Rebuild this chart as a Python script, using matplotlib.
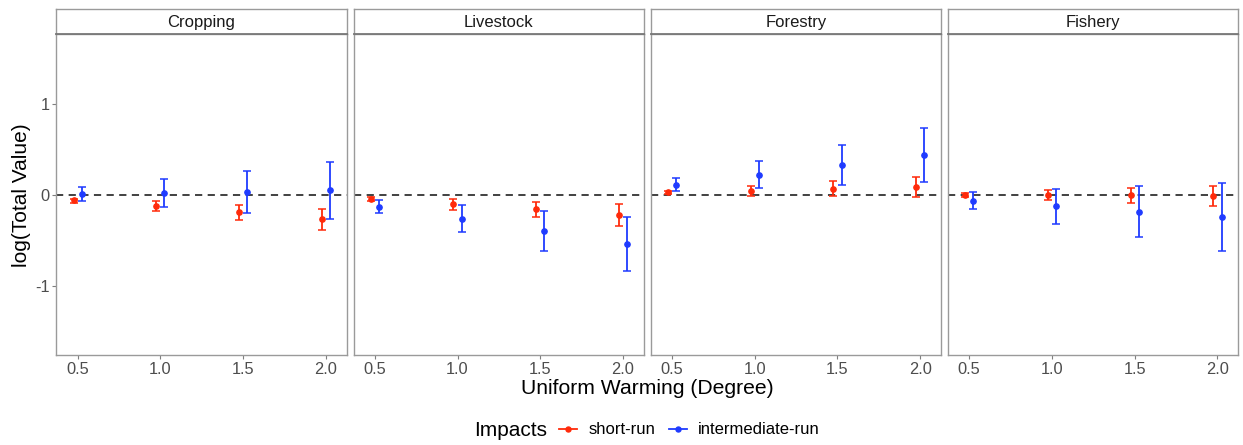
import matplotlib
matplotlib.use("Agg")
import matplotlib.pyplot as plt
from matplotlib.lines import Line2D
import numpy as np

plt.rcParams['font.family'] = ['Liberation Sans', 'DejaVu Sans']
plt.rcParams['axes.unicode_minus'] = False

sectors = ["Cropping", "Livestock", "Forestry", "Fishery"]
warming = [0.5, 1.0, 1.5, 2.0]
xticklabels = ["0.5", "1.0", "1.5", "2.0"]
yticks = [-1, 0, 1]

short_mean = {
    "Cropping":  [-0.059, -0.12, -0.19, -0.26],
    "Livestock": [-0.044, -0.10, -0.157, -0.22],
    "Forestry":  [0.03, 0.048, 0.066, 0.084],
    "Fishery":   [0.0, 0.0, -0.004, -0.01],
}
short_lo = {
    "Cropping":  [-0.084, -0.18, -0.28, -0.38],
    "Livestock": [-0.07, -0.16, -0.245, -0.337],
    "Forestry":  [0.007, -0.01, -0.015, -0.026],
    "Fishery":   [-0.026, -0.055, -0.09, -0.12],
}
short_hi = {
    "Cropping":  [-0.04, -0.07, -0.11, -0.15],
    "Livestock": [-0.02, -0.044, -0.073, -0.10],
    "Forestry":  [0.048, 0.10, 0.15, 0.198],
    "Fishery":   [0.022, 0.05, 0.077, 0.095],
}
inter_mean = {
    "Cropping":  [0.007, 0.022, 0.037, 0.05],
    "Livestock": [-0.128, -0.26, -0.40, -0.54],
    "Forestry":  [0.11, 0.223, 0.333, 0.44],
    "Fishery":   [-0.062, -0.125, -0.187, -0.245],
}
inter_lo = {
    "Cropping":  [-0.07, -0.13, -0.20, -0.26],
    "Livestock": [-0.20, -0.41, -0.62, -0.835],
    "Forestry":  [0.04, 0.077, 0.114, 0.143],
    "Fishery":   [-0.157, -0.315, -0.465, -0.62],
}
inter_hi = {
    "Cropping":  [0.088, 0.18, 0.267, 0.36],
    "Livestock": [-0.055, -0.11, -0.176, -0.24],
    "Forestry":  [0.187, 0.374, 0.553, 0.736],
    "Fishery":   [0.033, 0.07, 0.10, 0.135],
}

RED = "#FF2A0A"
BLUE = "#1F3BFF"
BORDER = "#9A9A9A"
TXT = "#4D4D4D"

W, H = 1243, 445
fig = plt.figure(figsize=(W / 100, H / 100), dpi=100)

left0 = 56.3
pw = 290.5
gap = 6.7
ptop = 34
pbot = 355
strip_top = 9

for i, s in enumerate(sectors):
    l = left0 + i * (pw + gap)
    ax = fig.add_axes([l / W, (H - pbot) / H, pw / W, (pbot - ptop) / H])
    ax.set_xlim(0.371, 2.127)
    ax.set_ylim(-1.758, 1.769)
    ax.axhline(0, color="#333333", lw=1.3, ls=(0, (4, 3)), zorder=1)
    x = np.array(warming)
    for xs, m, lo, hi, c in [
        (x - 0.025, short_mean[s], short_lo[s], short_hi[s], RED),
        (x + 0.025, inter_mean[s], inter_lo[s], inter_hi[s], BLUE),
    ]:
        m = np.array(m); lo = np.array(lo); hi = np.array(hi)
        ax.errorbar(xs, m, yerr=[m - lo, hi - m], fmt="o", color=c, ms=3.8,
                    ecolor=c, elinewidth=1.3, capsize=2.8, capthick=1.1, zorder=3)
    ax.set_xticks(warming)
    ax.set_xticklabels(xticklabels)
    ax.set_yticks(yticks)
    ax.tick_params(axis="both", colors="#7F7F7F", labelcolor=TXT, labelsize=11.8,
                   length=3, width=0.8, pad=2)
    if i != 0:
        ax.set_yticklabels([])
        ax.tick_params(axis="y", length=0)
    for sp in ax.spines.values():
        sp.set_color(BORDER)
        sp.set_linewidth(1.0)
    # strip
    sax = fig.add_axes([l / W, (H - ptop) / H, pw / W, (ptop - strip_top) / H])
    sax.set_xticks([]); sax.set_yticks([])
    for sp in sax.spines.values():
        sp.set_color(BORDER)
        sp.set_linewidth(1.0)
    sax.spines["bottom"].set_color("#777777")
    sax.spines["bottom"].set_linewidth(1.3)
    sax.text(0.5, 0.45, s, ha="center", va="center", fontsize=12, color="#1A1A1A",
             transform=sax.transAxes)

fig.text(647 / W, 1 - 388 / H, "Uniform Warming (Degree)", ha="center", va="center",
         fontsize=15.2, color="black")
fig.text(22 / W, 1 - 195 / H, "log(Total Value)", ha="center", va="center",
         rotation=90, fontsize=15, color="black")

fig.text(511 / W, 1 - 430 / H, "Impacts", ha="center", va="center", fontsize=15,
         color="black")
handles = [
    Line2D([], [], color=RED, marker="o", ms=3.6, lw=1.3),
    Line2D([], [], color=BLUE, marker="o", ms=3.6, lw=1.3),
]
fig.legend(handles, ["short-run", "intermediate-run"], ncol=2, frameon=False,
           loc="center left", bbox_to_anchor=(559 / W, 1 - 430 / H), fontsize=12,
           handlelength=1.05, handletextpad=0.7, columnspacing=0.85, borderaxespad=0,
           borderpad=0)

fig.savefig("out.png", dpi=100)
